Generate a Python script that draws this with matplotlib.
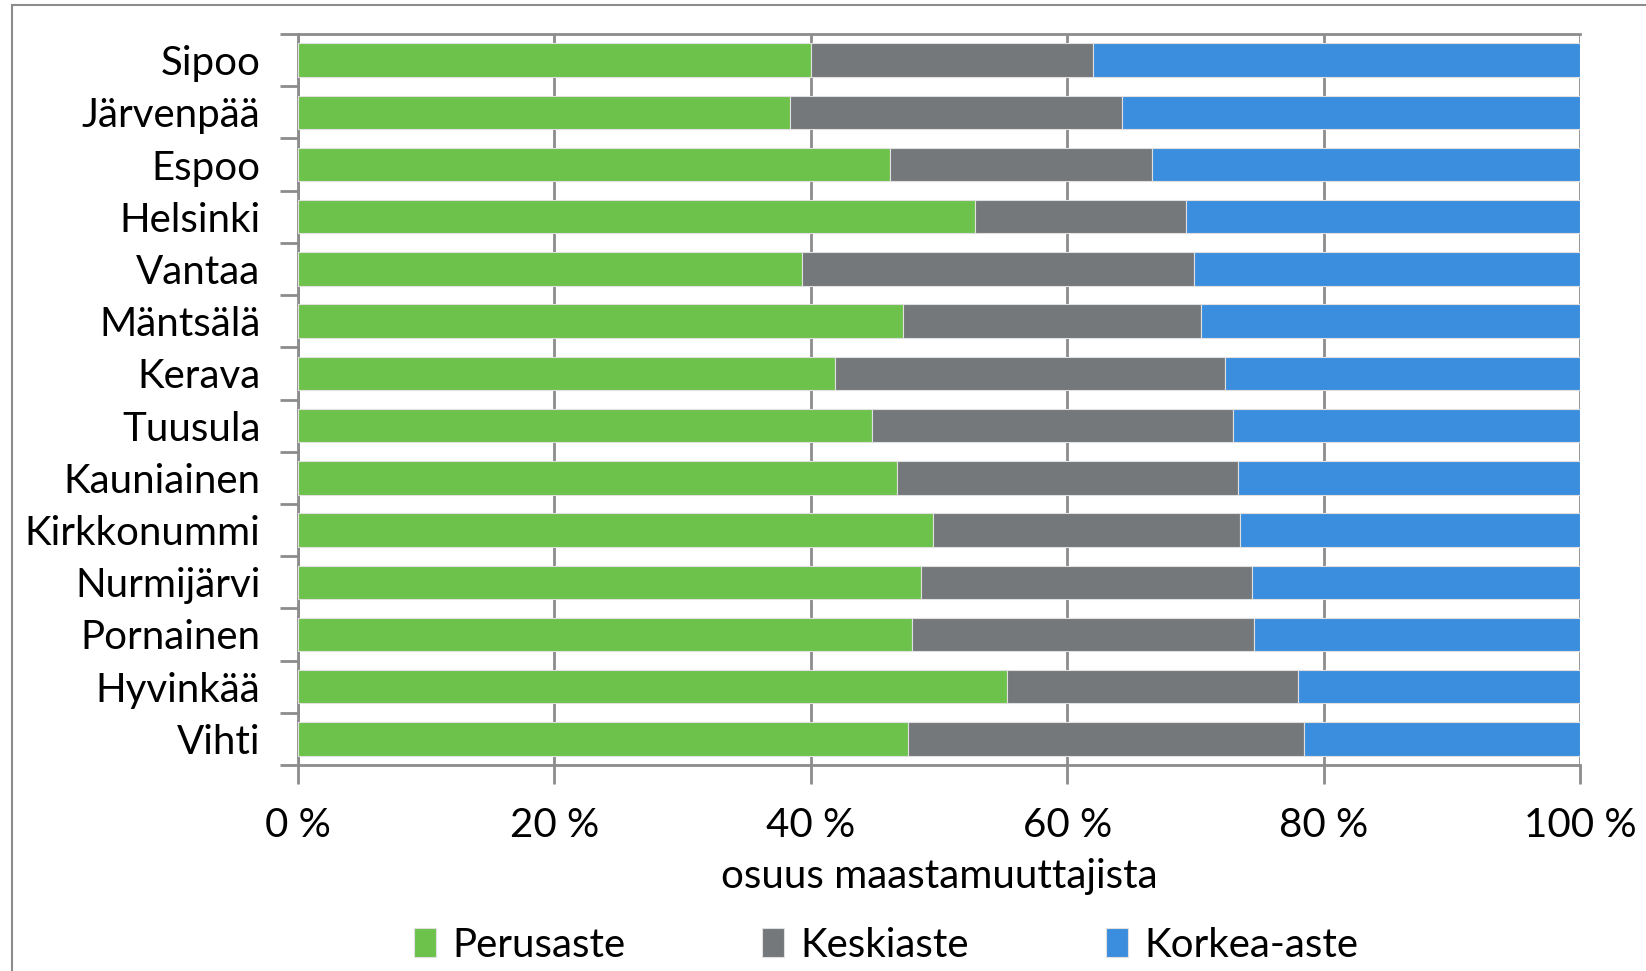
import numpy as np
import matplotlib
matplotlib.use("Agg")
import matplotlib.pyplot as plt
from matplotlib.patches import Rectangle

# ====================
# DATA
# ====================

kunnat = ["Sipoo", "Järvenpää", "Espoo", "Helsinki", "Vantaa", "Mäntsälä",
          "Kerava", "Tuusula", "Kauniainen", "Kirkkonummi", "Nurmijärvi",
          "Pornainen", "Hyvinkää", "Vihti"]
perusaste = [40.0, 38.4, 46.2, 52.8, 39.3, 47.2, 41.9, 44.8, 46.7, 49.5, 48.6, 47.9, 55.3, 47.6]
keskiaste = [22.0, 25.9, 20.4, 16.5, 30.6, 23.2, 30.4, 28.1, 26.6, 24.0, 25.8, 26.7, 22.7, 30.9]
korkea_aste = [100 - p - k for p, k in zip(perusaste, keskiaste)]

sarjat = ["Perusaste", "Keskiaste", "Korkea-aste"]
x_ticks = [0, 20, 40, 60, 80, 100]
x_ticklabels = ["0 %", "20 %", "40 %", "60 %", "80 %", "100 %"]
x_label = "osuus maastamuuttajista"

# ====================
# STYLE
# ====================

plt.rcParams['font.family'] = ['Lato', 'DejaVu Sans']
FS = 29
colors = ["#6CC24A", "#75787B", "#3B8EDE"]
grid_col = "#8C8C8C"

W, H = 1646, 971
fig = plt.figure(figsize=(W / 100, H / 100), dpi=100)

# axes box in pixels
left, right, top, bottom = 298, 1580, 34, 765
ax = fig.add_axes([left / W, 1 - bottom / H, (right - left) / W, (bottom - top) / H])

y = np.arange(len(kunnat))
start = np.zeros(len(kunnat))
for vals, name, c in zip([perusaste, keskiaste, korkea_aste], sarjat, colors):
    ax.barh(y, vals, left=start, height=0.64, color=c, label=name,
            edgecolor="#E0E0E0", linewidth=0.8, zorder=3)
    start = start + np.array(vals)

ax.set_xlim(0, 100)
ax.set_ylim(len(kunnat) - 0.5, -0.5)

# vertical gridlines
ax.set_xticks(x_ticks)
ax.set_xticklabels(x_ticklabels, fontsize=FS)
ax.xaxis.grid(True, color=grid_col, linewidth=2, zorder=0)
ax.set_axisbelow(True)

# category ticks between bars
ax.set_yticks(y)
ax.set_yticklabels(kunnat, fontsize=FS)
ax.set_yticks(np.arange(len(kunnat) + 1) - 0.5, minor=True)
ax.tick_params(axis="y", which="major", length=0, pad=27)
ax.tick_params(axis="y", which="minor", length=13, width=2, color=grid_col)
ax.tick_params(axis="x", length=14, width=2, color=grid_col, pad=16)

for s in ["left", "top", "bottom"]:
    ax.spines[s].set_color(grid_col)
    ax.spines[s].set_linewidth(2)
ax.spines["right"].set_visible(False)

ax.set_xlabel(x_label, fontsize=FS, labelpad=10)

fig.legend(loc="center", bbox_to_anchor=(886 / W, 1 - 945 / H), ncol=3,
           fontsize=FS, frameon=False, handlelength=0.55, handleheight=0.7,
           handletextpad=0.4, columnspacing=3.4)

# outer chart frame
fig.patches.append(Rectangle((12 / W, -0.1), 1.2, 1.1 - 5 / H, transform=fig.transFigure,
                             fill=False, edgecolor=grid_col, linewidth=1.5))

fig.savefig("out.png", dpi=100)
